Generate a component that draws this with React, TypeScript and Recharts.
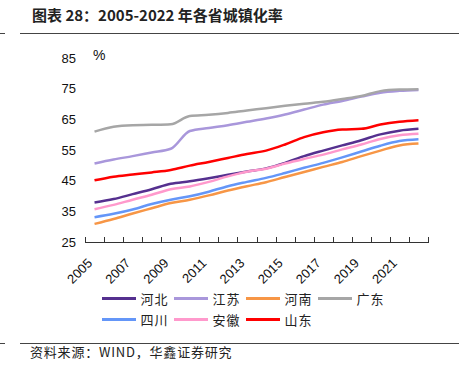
import React from "react";
import { LineChart, Line, XAxis, YAxis } from "recharts";

const years = [
  2005, 2006, 2007, 2008, 2009, 2010, 2011, 2012, 2013, 2014, 2015, 2016, 2017,
  2018, 2019, 2020, 2021, 2022,
];

const hebei = [37.9, 39.0, 40.6, 42.2, 44.0, 44.8, 45.8, 46.9, 48.0, 49.0, 50.8, 53.0, 54.8, 56.5, 58.2, 60.1, 61.3, 61.9];
const jiangsu = [50.6, 51.9, 53.0, 54.2, 55.4, 61.2, 62.2, 63.1, 64.2, 65.3, 66.6, 68.2, 69.8, 71.0, 72.4, 73.7, 74.3, 74.6];
const henan = [30.9, 32.5, 34.3, 36.0, 37.7, 38.8, 40.2, 41.8, 43.2, 44.5, 46.2, 47.8, 49.5, 51.1, 53.0, 54.8, 56.5, 57.1];
const guangdong = [61.0, 62.6, 63.1, 63.2, 63.4, 66.1, 66.5, 67.1, 67.9, 68.6, 69.4, 70.1, 70.7, 71.6, 72.6, 74.2, 74.7, 74.8];
const sichuan = [33.1, 34.2, 35.6, 37.4, 38.8, 39.9, 41.4, 43.2, 44.6, 45.9, 47.5, 49.2, 50.8, 52.6, 54.5, 56.4, 57.9, 58.5];
const anhui = [35.7, 37.1, 38.8, 40.4, 42.2, 43.1, 44.6, 46.4, 47.9, 48.9, 50.6, 52.1, 53.5, 55.2, 56.8, 58.6, 59.8, 60.3];
const shandong = [45.1, 46.3, 47.0, 47.7, 48.5, 49.9, 51.1, 52.4, 53.7, 54.8, 56.8, 59.2, 60.8, 61.7, 61.9, 63.3, 64.2, 64.7];

const yTicks = [25, 35, 45, 55, 65, 75, 85];
// tick marks sit between years; labels on every other year
const xBoundaryTicks = years.map((y) => y - 0.5).concat([2022.5]);
const labelYears = [2005, 2007, 2009, 2011, 2013, 2015, 2017, 2019, 2021];

const series = [
  { key: "hebei", name: "河北", color: "#55308F", values: hebei },
  { key: "jiangsu", name: "江苏", color: "#A997DB", values: jiangsu },
  { key: "henan", name: "河南", color: "#F79646", values: henan },
  { key: "guangdong", name: "广东", color: "#A6A6A6", values: guangdong },
  { key: "sichuan", name: "四川", color: "#6496F8", values: sichuan },
  { key: "anhui", name: "安徽", color: "#FF99CC", values: anhui },
  { key: "shandong", name: "山东", color: "#FF0000", values: shandong },
];

const data = years.map((year, i) => {
  const row: any = { year };
  series.forEach((s) => (row[s.key] = s.values[i]));
  return row;
});

const cjk = '"Noto Sans CJK SC", "Noto Sans", sans-serif';
const latin = '"Liberation Sans", Arial, sans-serif';

const PLOT_LEFT = 85;
const PLOT_W = 343;
const AXIS_Y = 242;
const STEP = PLOT_W / years.length;
const HALF_STEP = STEP / 2;

const YearTick = (props: any) => {
  const { x, y, payload } = props;
  const year = payload.value + 0.5;
  if (!labelYears.includes(year)) return <g />;
  const px = x + HALF_STEP - 1.5;
  const py = y + 22;
  return (
    <text
      x={px}
      y={py}
      transform={`rotate(-45, ${px}, ${py})`}
      textAnchor="end"
      fontSize={13}
      fill="#111"
      fontFamily={latin}
    >
      {year}
    </text>
  );
};

export default function App() {
  return (
    <div
      style={{
        position: "absolute",
        left: 0,
        top: 0,
        width: 459,
        height: 376,
        background: "#fff",
        overflow: "hidden",
      }}
    >
      <div
        style={{
          position: "absolute",
          left: 32,
          top: 4,
          fontFamily: cjk,
          fontWeight: 700,
          fontSize: 15,
          lineHeight: "22px",
          color: "#222",
        }}
      >
        图表 28：2005-2022 年各省城镇化率
      </div>
      <div style={{ position: "absolute", left: 20, right: 0, top: 33, height: 1, background: "#444" }} />
      <div style={{ position: "absolute", left: 0, width: 5, top: 33, height: 1, background: "#444" }} />

      <LineChart
        width={459}
        height={376}
        data={data}
        margin={{ top: 58, right: 31, bottom: 94, left: 0 }}
        style={{ position: "absolute", left: 0, top: 0 }}
      >
        <XAxis
          dataKey="year"
          type="number"
          domain={[2004.5, 2022.5]}
          ticks={xBoundaryTicks}
          interval={0}
          height={40}
          tickSize={0}
          tickMargin={0}
          axisLine={false}
          tickLine={false}
          tick={<YearTick />}
        />
        <YAxis
          domain={[25, 85]}
          ticks={yTicks}
          interval={0}
          width={85}
          axisLine={false}
          tickLine={false}
          tickSize={0}
          tickMargin={9}
          tick={{ fontSize: 13, fill: "#111", fontFamily: latin }}
        />
        {series.map((s) => (
          <Line
            key={s.key}
            dataKey={s.key}
            type="monotone"
            stroke={s.color}
            strokeWidth={2.5}
            dot={false}
            isAnimationActive={false}
          />
        ))}
      </LineChart>

      {/* x axis baseline with upward tick marks between years, on top of the svg */}
      <div style={{ position: "absolute", left: PLOT_LEFT, width: PLOT_W + 1, top: AXIS_Y, height: 1, background: "#333" }} />
      {xBoundaryTicks.map((t, i) => (
        <div
          key={t}
          style={{ position: "absolute", left: PLOT_LEFT + i * STEP, top: AXIS_Y - 5, width: 1, height: 5, background: "#333" }}
        />
      ))}

      <div
        style={{
          position: "absolute",
          left: 93,
          top: 47,
          fontFamily: latin,
          fontSize: 14,
          color: "#111",
        }}
      >
        %
      </div>

      {series.map((s, i) => {
        const row = i < 4 ? 0 : 1;
        const col = i < 4 ? i : i - 4;
        return (
          <div
            key={s.key}
            style={{
              position: "absolute",
              left: 101.5 + col * 72,
              top: row === 0 ? 288 : 309,
              height: 20,
              display: "flex",
              alignItems: "center",
              fontFamily: cjk,
              fontSize: 13,
              letterSpacing: 1,
              color: "#222",
            }}
          >
            <span style={{ display: "inline-block", width: 34, height: 3, background: s.color, marginRight: 5 }} />
            {s.name}
          </div>
        );
      })}

      <div style={{ position: "absolute", left: 20, right: 0, top: 343, height: 1, background: "#444" }} />
      <div style={{ position: "absolute", left: 0, width: 5, top: 343, height: 1, background: "#444" }} />
      <div
        style={{
          position: "absolute",
          left: 30,
          top: 343,
          fontFamily: cjk,
          fontSize: 13,
          letterSpacing: 0.8,
          lineHeight: "18px",
          color: "#222",
        }}
      >
        资料来源：WIND，华鑫证券研究
      </div>
    </div>
  );
}
